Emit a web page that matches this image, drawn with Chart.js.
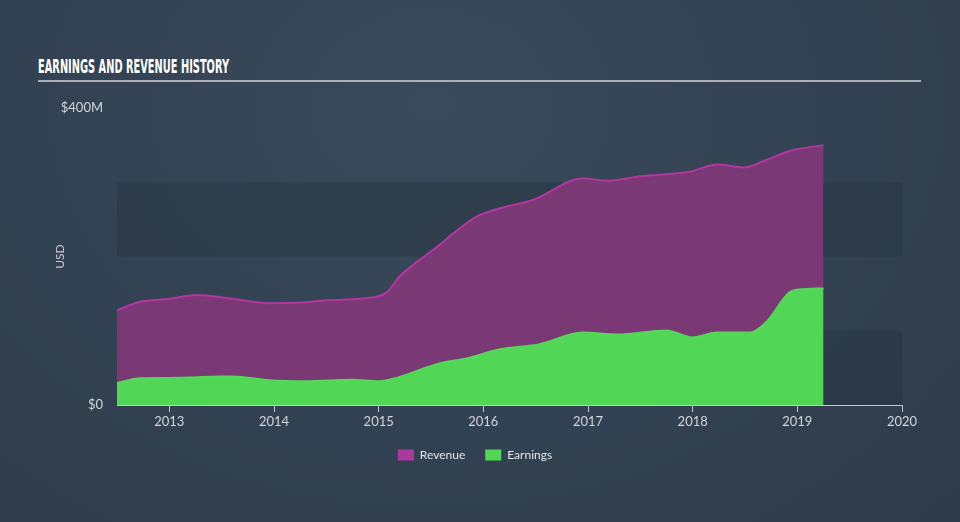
<!DOCTYPE html>
<html>
<head>
<meta charset="utf-8">
<script src="https://cdn.jsdelivr.net/npm/chart.js@4.4.1/dist/chart.umd.min.js"></script>
<style>
  html, body { margin: 0; padding: 0; }
  body {
    width: 960px; height: 522px; overflow: hidden; position: relative;
    background: radial-gradient(ellipse at 45% 20%, #384a5b 0%, #334252 55%, #2e3b49 100%);
  }
  #title {
    position: absolute; left: 38px; top: 55px; white-space: nowrap;
    font-family: "DejaVu Sans Condensed", "Liberation Sans Narrow", sans-serif;
    font-weight: bold; font-size: 19px; line-height: 22px; color: #ffffff;
    transform-origin: left top; transform: scaleX(0.575);
  }
  #rule {
    position: absolute; left: 38px; top: 80px; width: 883px; height: 2px;
    background: #a9b0b8;
  }
  #wrap { position: absolute; left: 0; top: 0; width: 960px; height: 522px; }
</style>
</head>
<body>
<div id="title">EARNINGS AND REVENUE HISTORY</div>
<div id="rule"></div>
<div id="wrap"><canvas id="c" width="960" height="522"></canvas></div>
<script>
// ---- data (decimal years, values in $M) ----
const revenueX = [2012.50, 2012.72, 2013.00, 2013.26, 2013.60, 2013.98, 2014.25, 2014.50, 2014.95, 2015.08, 2015.20, 2015.52, 2015.94, 2016.16, 2016.47, 2016.95, 2017.20, 2017.50, 2017.97, 2018.23, 2018.50, 2018.70, 2018.95, 2019.25];
const revenueY = [127.5, 139, 143, 148, 143, 137, 138, 141, 145, 152, 173, 209, 254, 265, 276, 305, 302, 308, 314, 324, 320, 330, 343, 350];
const earningsX = [2012.50, 2012.72, 2013.00, 2013.20, 2013.48, 2013.60, 2013.98, 2014.30, 2014.75, 2015.00, 2015.13, 2015.58, 2015.85, 2016.16, 2016.54, 2016.95, 2017.28, 2017.75, 2018.00, 2018.23, 2018.55, 2018.70, 2018.92, 2019.01, 2019.25];
const earningsY = [29.5, 36, 36.5, 37, 38.5, 38.5, 33, 32, 34, 32, 35, 56, 63, 75, 82, 97.5, 95, 100.5, 91, 97.5, 97.5, 111, 151, 155.5, 157];
const xTickValues = [2013, 2014, 2015, 2016, 2017, 2018, 2019, 2020];
const yTickValues = [0, 400];
const yTickLabels = ['$0', '$400M'];
const bandRanges = [[0, 100], [200, 300]];

const toPoints = (xs, ys) => xs.map((x, i) => ({ x: x, y: ys[i] }));

const bandPlugin = {
  id: 'bands',
  beforeDatasetsDraw(chart) {
    const { ctx, chartArea, scales: { y } } = chart;
    ctx.save();
    ctx.fillStyle = 'rgba(38, 50, 64, 0.45)';
    bandRanges.forEach(([lo, hi]) => {
      const top = y.getPixelForValue(hi);
      const bot = y.getPixelForValue(lo);
      ctx.fillRect(chartArea.left, top, chartArea.right - chartArea.left, bot - top);
    });
    ctx.restore();
  }
};

Chart.defaults.font.family = 'Lato, "Open Sans", sans-serif';

new Chart(document.getElementById('c'), {
  type: 'line',
  data: {
    datasets: [
      {
        label: 'Revenue',
        data: toPoints(revenueX, revenueY),
        borderColor: '#b2379f',
        backgroundColor: 'rgba(122, 56, 117, 1)',
        borderWidth: 2,
        fill: 'origin',
        pointRadius: 0,
        tension: 0.4,
        cubicInterpolationMode: 'monotone',
        order: 1
      },
      {
        label: 'Earnings',
        data: toPoints(earningsX, earningsY),
        borderColor: '#55d85a',
        backgroundColor: '#52d655',
        borderWidth: 2,
        fill: 'origin',
        pointRadius: 0,
        tension: 0.4,
        cubicInterpolationMode: 'monotone',
        order: 0
      }
    ]
  },
  options: {
    responsive: false,
    animation: false,
    layout: { padding: { left: 48, right: 58, top: 108, bottom: 51 } },
    scales: {
      x: {
        type: 'linear',
        min: 2012.5,
        max: 2020,
        afterBuildTicks: (s) => { s.ticks = xTickValues.map(v => ({ value: v })); },
        afterFit: (s) => { s.height = 24; },
        ticks: {
          color: '#d2d6dc',
          font: { size: 13 },
          padding: 2,
          callback: (v) => String(v)
        },
        grid: { display: true, drawOnChartArea: false, drawTicks: true, tickLength: 7, color: '#c3c8d0', lineWidth: 1 },
        border: { display: true, color: '#c3c8d0', width: 1 }
      },
      y: {
        type: 'linear',
        min: 0,
        max: 400,
        afterBuildTicks: (s) => { s.ticks = yTickValues.map(v => ({ value: v })); },
        afterFit: (s) => { s.width = 69; },
        ticks: {
          color: '#d2d6dc',
          font: { size: 13 },
          padding: 14,
          callback: (v) => yTickLabels[yTickValues.indexOf(v)]
        },
        grid: { display: false, drawTicks: false },
        border: { display: false },
        title: {
          display: true,
          text: 'USD',
          color: '#c8ccd4',
          font: { size: 12 },
          padding: { top: 5, bottom: 0 }
        }
      }
    },
    plugins: {
      legend: {
        display: true,
        position: 'bottom',
        labels: {
          color: '#e2e5ea',
          font: { size: 12 },
          boxWidth: 16,
          boxHeight: 11,
          padding: 20,
          sort: (a, b) => a.datasetIndex - b.datasetIndex,
          generateLabels: (chart) => chart.data.datasets.map((d, i) => ({
            text: d.label,
            fillStyle: i === 0 ? '#a8399d' : '#52d655',
            strokeStyle: 'rgba(0,0,0,0)',
            lineWidth: 0,
            fontColor: '#e2e5ea',
            datasetIndex: i,
            hidden: false
          }))
        }
      },
      tooltip: { enabled: false }
    }
  },
  plugins: [bandPlugin]
});
</script>
</body>
</html>
